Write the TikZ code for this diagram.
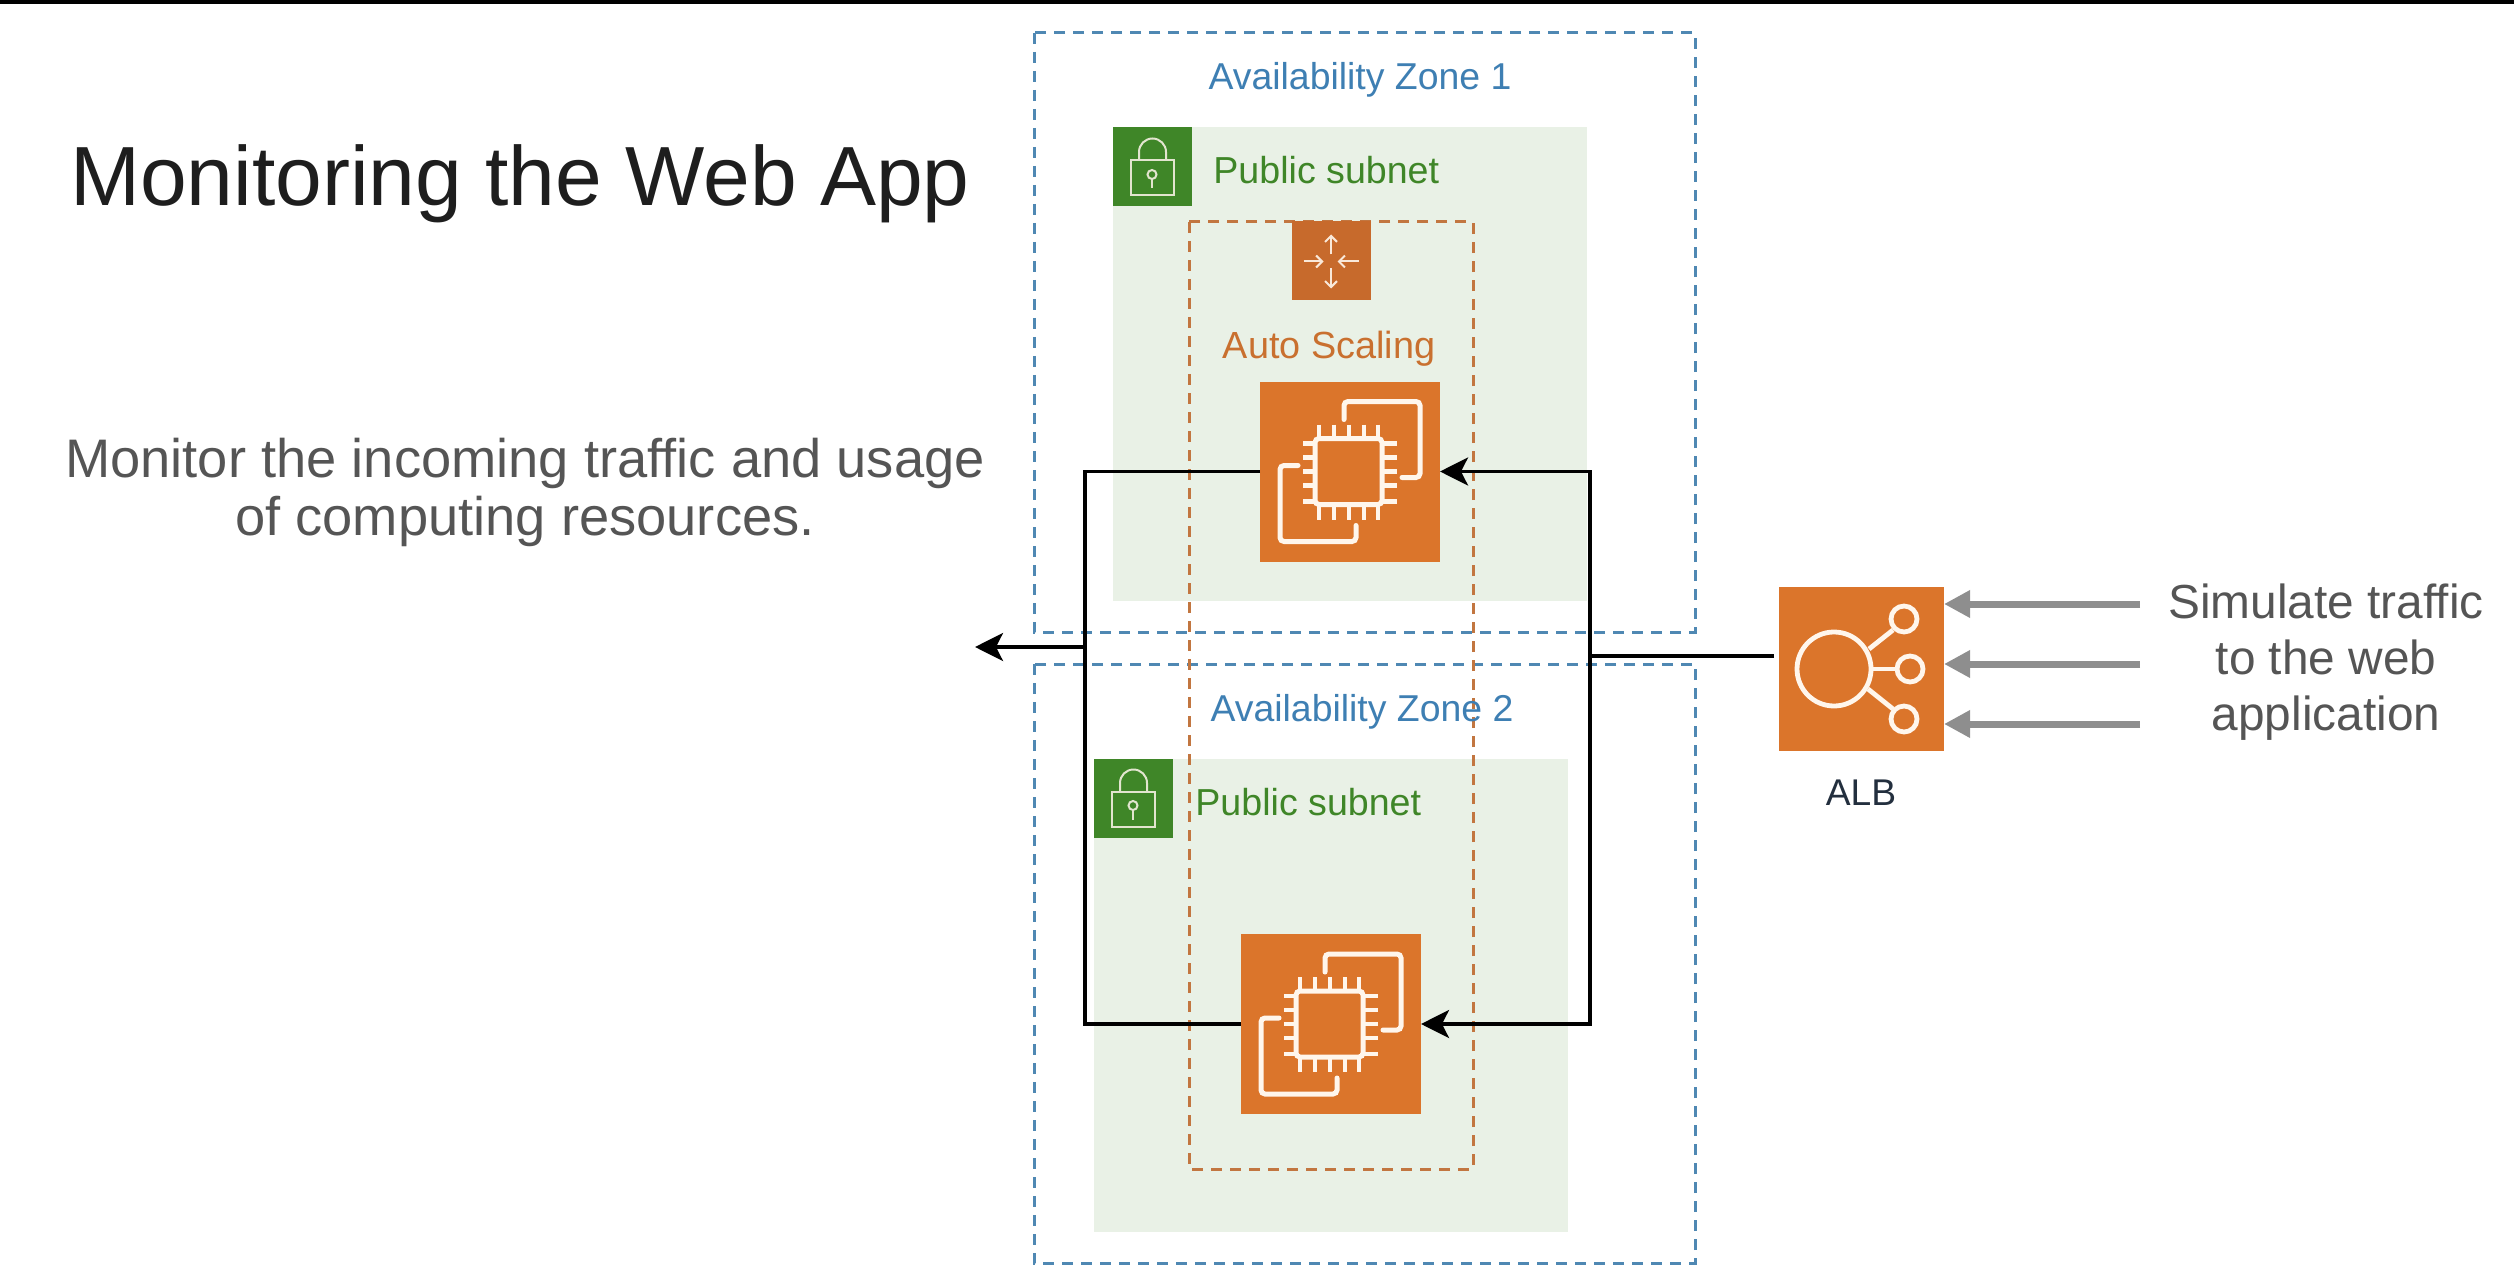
\documentclass[tikz,border=0pt]{standalone}
\usepackage{fontspec}
\setmainfont{Liberation Sans}
\usetikzlibrary{arrows.meta}
\definecolor{zoneblue}{HTML}{4F88B3}
\definecolor{zonetext}{HTML}{3E7FB3}
\definecolor{netgreen}{HTML}{3F8628}
\definecolor{netfill}{HTML}{E9F1E6}
\definecolor{ec2orange}{HTML}{DB752B}
\definecolor{asgicon}{HTML}{C76A2C}
\definecolor{asgtext}{HTML}{C9702F}
\definecolor{asgdash}{HTML}{C27640}
\definecolor{icwhite}{HTML}{FFF6EC}
\definecolor{titleink}{HTML}{1E1E1E}
\definecolor{bodyink}{HTML}{555555}
\definecolor{arrowgrey}{HTML}{8E8E8E}
\definecolor{albink}{HTML}{232F3E}
\tikzset{
  zonebox/.style={draw=zoneblue,line width=1.5pt,dash pattern=on 5.5pt off 4pt},
  asgbox/.style={draw=asgdash,line width=1.5pt,dash pattern=on 5.5pt off 4pt},
  subnetbox/.style={fill=netfill,draw=none},
  flat/.style={inner sep=0pt,outer sep=0pt,draw=none},
  ec2box/.style={flat,fill=ec2orange,minimum width=90pt,minimum height=90pt},
  lockbox/.style={flat,fill=netgreen,minimum width=39.5pt,minimum height=39.5pt},
  asgiconbox/.style={flat,fill=asgicon,minimum width=39.5pt,minimum height=39.5pt},
  albbox/.style={flat,fill=ec2orange,minimum width=82.5pt,minimum height=82pt},
  zonelabel/.style={inner sep=0pt,anchor=base,text=zonetext,font=\fontsize{18.7}{22}\selectfont},
  netlabel/.style={inner sep=0pt,anchor=base west,text=netgreen,font=\fontsize{18.8}{22}\selectfont},
  flow/.style={draw=black,line width=1.7pt},
  flowtip/.style={flow,-{Stealth[length=14pt,width=14pt,inset=3.5pt]}},
  traffic/.style={draw=arrowgrey,line width=3.5pt,-{Triangle[length=13pt,width=13pt]}},
  ecline/.style={draw=icwhite,line width=2.5pt,line cap=round,rounded corners=2pt},
  ecpin/.style={draw=icwhite,line width=2.3pt},
  lockline/.style={draw=icwhite!85!netgreen,line width=1pt},
  asgline/.style={draw=icwhite!90!asgicon,line width=1pt,-{Straight Barb[length=3pt,width=6pt]}},
  albline/.style={draw=icwhite,line width=2.4pt},
  ec2icon/.pic={
    \draw[ecline] (84,38) -- (84,20) -- (160,20) -- (160,96) -- (142,96);
    \draw[ecline] (38,84) -- (20,84) -- (20,160) -- (96,160) -- (96,144);
    \draw[ecline] (55,57) rectangle (122,123);
    \foreach \p in {59,74,89,104,118}{
      \draw[ecpin] (\p,43) -- (\p,57);
      \draw[ecpin] (\p,123) -- (\p,138);
    }
    \foreach \p in {62,76,90,104,120}{
      \draw[ecpin] (43,\p) -- (55,\p);
      \draw[ecpin] (122,\p) -- (137,\p);
    }
  },
  lockicon/.pic={
    \draw[lockline] (18,33) rectangle (61,68);
    \draw[lockline] (26,33) -- (26,24.5) arc[start angle=180,end angle=0,x radius=13.5,y radius=-13.5] -- (53,33);
    \draw[lockline] (39,47) circle[radius=4.5];
    \draw[lockline] (39,51.5) -- (39,61);
  },
  asgsymbol/.pic={
    \draw[asgline] (39.5,33) -- (39.5,13);
    \draw[asgline] (39.5,47) -- (39.5,67);
    \draw[asgline] (12,40) -- (32,40);
    \draw[asgline] (67,40) -- (46,40);
  },
  albicon/.pic={
    \draw[albline] (55,82) circle[radius=37];
    \draw[albline] (125,32) circle[radius=13];
    \draw[albline] (131,82) circle[radius=13];
    \draw[albline] (125,132) circle[radius=13];
    \draw[albline] (90,62) -- (114,43);
    \draw[albline] (92,82) -- (118,82);
    \draw[albline] (89,102) -- (114,122);
  }
}
\begin{document}
\begin{tikzpicture}[x=.5pt,y=-.5pt]
\useasboundingbox (0,0) rectangle (2514,1278);
\fill[black] (0,0) rectangle (2514,4);

% titles
\node[inner sep=0pt,anchor=base,text=titleink,font=\fontsize{42}{45}\selectfont] (title) at (520,206) {Monitoring the Web App};
\node[inner sep=0pt,anchor=center,align=center,text=bodyink,font=\fontsize{27.15}{29}\selectfont] (monitor) at (525,492) {Monitor the incoming traffic and usage\\of computing resources.};

% zones and subnets
\draw[zonebox] (1034,33) rectangle (1695,632);
\draw[zonebox] (1034,664) rectangle (1695,1263);
\fill[subnetbox] (1113,127) rectangle (1587,601);
\fill[subnetbox] (1094,759) rectangle (1568,1232);
\draw[asgbox] (1189,222) rectangle (1473,1169);

\node[zonelabel] (zone1) at (1360,90) {Availability Zone 1};
\node[zonelabel] (zone2) at (1362,721) {Availability Zone 2};

\node[lockbox] (lock1) at (1152.5,167) {};
\pic at (lock1.north west) {lockicon};
\node[lockbox] (lock2) at (1133.5,798) {};
\pic at (lock2.north west) {lockicon};
\node[netlabel] (net1) at (1213,184) {Public subnet};
\node[netlabel] (net2) at (1195,815) {Public subnet};

\node[asgiconbox] (asg) at (1331,261) {};
\pic at (asg.north west) {asgsymbol};
\node[inner sep=0pt,anchor=base,text=asgtext,font=\fontsize{18.9}{22}\selectfont] (asglabel) at (1329,358) {Auto Scaling};

\node[ec2box] (ec2a) at (1350,471.5) {};
\pic at (ec2a.north west) {ec2icon};
\node[ec2box] (ec2b) at (1331,1024) {};
\pic at (ec2b.north west) {ec2icon};

\node[albbox] (alb) at (1861.5,669) {};
\pic at (alb.north west) {albicon};
\node[inner sep=0pt,anchor=base,text=albink,font=\fontsize{18.6}{22}\selectfont] (alblabel) at (1861,805) {ALB};

\node[inner sep=0pt,anchor=center,align=center,text=bodyink,font=\fontsize{23.9}{28}\selectfont] (sim) at (2326,662) {Simulate traffic\\to the web\\application};

% connectors
\coordinate (busL) at (1085,647);
\coordinate (busR) at (1590,656);
\coordinate (albout) at (1774,656);
\coordinate (exit) at (975,647);
\draw[flow] (ec2a.west) -| (busL) |- (ec2b.west);
\draw[flowtip] (busL) -- (exit);
\draw[flow] (albout) -- (busR);
\draw[flowtip] (busR) |- (ec2a.east);
\draw[flowtip] (busR) |- (ec2b.east);

\coordinate (t1) at (2140,604);
\coordinate (t2) at (2140,664);
\coordinate (t3) at (2140,724);
\draw[traffic] (t1) -- (t1 -| alb.east);
\draw[traffic] (t2) -- (t2 -| alb.east);
\draw[traffic] (t3) -- (t3 -| alb.east);
\end{tikzpicture}
\end{document}
